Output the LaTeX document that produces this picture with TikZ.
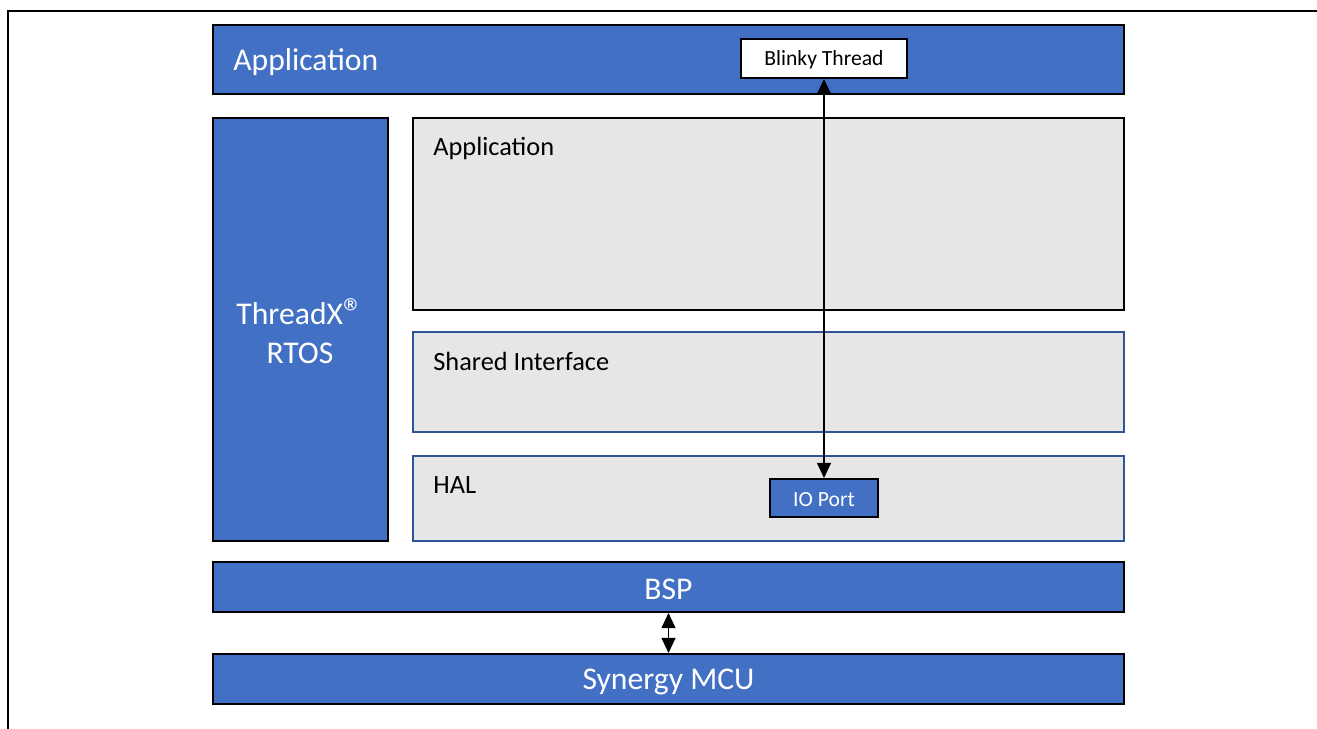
\documentclass[tikz,border=0pt]{standalone}
\usepackage{fontspec}
\setmainfont{Carlito}
\usetikzlibrary{arrows.meta}
\pgfdeclarelayer{edgelayer}
\pgfdeclarelayer{nodelayer}
\pgfsetlayers{nodelayer,edgelayer,main}
\definecolor{synblue}{HTML}{4170C4}
\definecolor{syngray}{HTML}{E7E6E6}
\definecolor{synline}{HTML}{2F5597}
\tikzstyle{none}=[inner sep=0pt]
\tikzstyle{bluebar}=[rectangle,draw=black,line width=1.2pt,fill=synblue,inner sep=0pt]
\tikzstyle{graybox}=[rectangle,draw=black,line width=1.2pt,fill=syngray,inner sep=0pt]
\tikzstyle{grayblue}=[rectangle,draw=synline,line width=0.9pt,fill=syngray,inner sep=0pt]
\tikzstyle{whitebox}=[rectangle,draw=black,line width=1.2pt,fill=white,inner sep=0pt]
\tikzstyle{bigtext}=[inner sep=0pt,text=white,font=\fontsize{18}{22}\selectfont]
\tikzstyle{midtext}=[inner sep=0pt,anchor=west,font=\fontsize{15}{18}\selectfont]
\tikzstyle{smalltext}=[inner sep=0pt,font=\fontsize{12.3}{15}\selectfont]
\tikzstyle{link}=[line width=0.6pt,{Triangle[length=0.3cm,width=0.28cm]}-{Triangle[length=0.3cm,width=0.28cm]}]

\begin{document}
\begin{tikzpicture}[x=0.02cm,y=-0.02cm]
	\useasboundingbox (0, 0) rectangle (1317, 729);
	\draw[line width=1.2pt] (8, 729) -- (8, 11) -- (1317, 11);
	\begin{pgfonlayer}{nodelayer}
		\node [style=bluebar, minimum width=18.22cm, minimum height=1.38cm] (app) at (668.5, 59.5) {};
		\node [style=bigtext, anchor=west] (applabel) at (233, 62) {Application};
		\node [style=whitebox, minimum width=3.32cm, minimum height=0.78cm] (blinky) at (824, 58.5) {};
		\node [style=smalltext] (blinkylabel) at (824, 60) {Blinky Thread};
		\node [style=bluebar, minimum width=3.5cm, minimum height=8.46cm] (rtos) at (300.5, 329.5) {};
		\node [style=bigtext, align=center] (rtoslabel) at (300, 333) {ThreadX\smash{\raisebox{-0.15ex}{\fontsize{23}{23}\selectfont ®}}\\RTOS};
		\node [style=graybox, minimum width=14.22cm, minimum height=3.84cm] (userapp) at (768.5, 214) {};
		\node [style=midtext] (userapplabel) at (433, 148) {Application};
		\node [style=grayblue, minimum width=14.22cm, minimum height=2cm] (shared) at (768.5, 382) {};
		\node [style=midtext] (sharedlabel) at (433, 361) {Shared Interface};
		\node [style=grayblue, minimum width=14.22cm, minimum height=1.7cm] (hal) at (768.5, 498.5) {};
		\node [style=midtext] (hallabel) at (433, 485) {HAL};
		\node [style=bluebar, minimum width=2.16cm, minimum height=0.76cm] (ioport) at (824, 498) {};
		\node [style=smalltext, text=white] (ioportlabel) at (824, 500) {IO Port};
		\node [style=bluebar, minimum width=18.22cm, minimum height=1cm] (bsp) at (668.5, 587) {};
		\node [style=bigtext] (bsplabel) at (668.5, 589) {BSP};
		\node [style=bluebar, minimum width=18.22cm, minimum height=1cm] (mcu) at (668.5, 679) {};
		\node [style=bigtext] (mculabel) at (668.5, 682) {Synergy MCU};
	\end{pgfonlayer}
	\begin{pgfonlayer}{edgelayer}
		\draw[style=link] (blinky.south) to (ioport.north);
		\draw[style=link] (bsp.south) to (mcu.north);
	\end{pgfonlayer}
\end{tikzpicture}
\end{document}
